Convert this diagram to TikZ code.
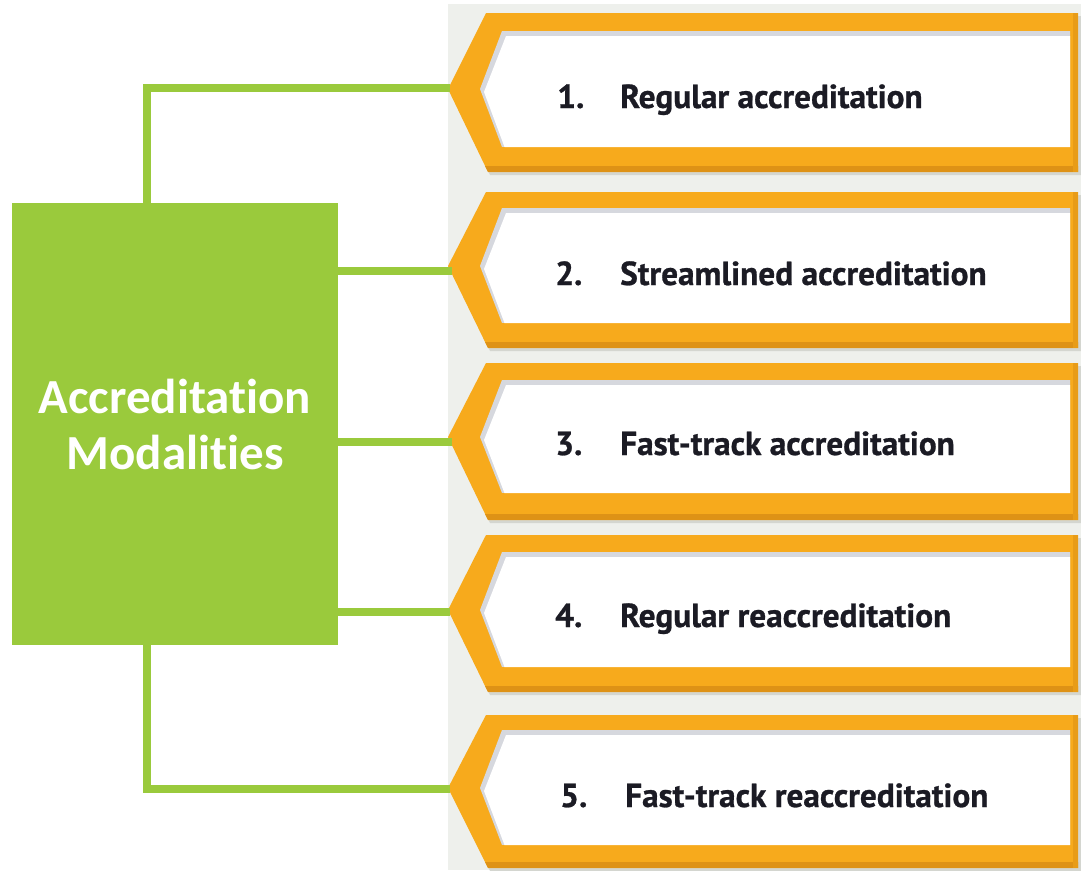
\documentclass[tikz,border=0pt]{standalone}
\usepackage{fontspec}
\newfontfamily\itemfamily{PT Sans}[BoldFeatures={FakeBold=0.8}]
\newfontfamily\headfamily{Carlito}[Ligatures=NoCommon]
\definecolor{gr}{HTML}{9ACA3C}
\definecolor{panel}{HTML}{EEF0EC}
\definecolor{orng}{HTML}{F7AA1C}
\definecolor{orngdark}{HTML}{DE9216}
\definecolor{innershade}{HTML}{D6D8DE}
\definecolor{dropshade}{HTML}{D4D6D0}
\definecolor{ink}{HTML}{1B1B24}
\tikzset{
  conn/.style={gr, line width=8pt},
  mainbox/.style={fill=gr, draw=none, inner sep=0pt, align=center, text=white,
    font=\headfamily\bfseries\fontsize{49}{56}\selectfont},
  itemtext/.style={inner sep=0pt, anchor=base west, text=ink,
    font=\itemfamily\bfseries\fontsize{33.3}{40}\selectfont},
}
\begin{document}
\begin{tikzpicture}[x=1pt,y=-1pt]
\useasboundingbox (0,0) rectangle (1081,870);
\fill[panel] (448,4) rectangle (1081,870);

\foreach \ot/\it/\ib/\ob/\py in {13/31/147/172/89, 192/208/323/348/266, 363/380/493/520/437, 535/552/667/692/610, 715/730/845/868/788}{
  % drop shadow
  \fill[dropshade] (450,\py+3) -- (488,\ot+3) -- (1081,\ot+3) -- (1081,\ob+3) -- (490,\ob+3) -- cycle;
  % outer frame
  \fill[orng] (448,\py) -- (486,\ot) -- (1078,\ot) -- (1078,\ob) -- (488,\ob) -- cycle;
  \begin{scope}
    \clip (448,\py) -- (486,\ot) -- (1078,\ot) -- (1078,\ob) -- (488,\ob) -- cycle;
    \fill[orngdark] (440,\ob-6) rectangle (1081,\ob);
    \fill[orngdark!60!orng] (1073,\ot) rectangle (1078,\ob);
  \end{scope}
  % inner white with inner shadow
  \begin{scope}
    \clip (480,\py) -- (502,\it) -- (1070,\it) -- (1070,\ib) -- (502,\ib) -- cycle;
    \fill[innershade] (470,\it) rectangle (1075,\ib);
    \fill[white] (484,\py+3) -- (506,\it+5) -- (1074,\it+5) -- (1074,\ib+4) -- (506,\ib+4) -- cycle;
  \end{scope}
}

\node[itemtext] (n1) at (557,108) {1.};
\node[itemtext] (l1) at (620,108) {Regular accreditation};
\node[itemtext] (n2) at (555,285) {2.};
\node[itemtext] (l2) at (620,285) {Streamlined accreditation};
\node[itemtext] (n3) at (555,455) {3.};
\node[itemtext] (l3) at (620,455) {Fast-track accreditation};
\node[itemtext] (n4) at (555,627) {4.};
\node[itemtext] (l4) at (620,627) {Regular reaccreditation};
\node[itemtext] (n5) at (560,807) {5.};
\node[itemtext] (l5) at (625,807) {Fast-track reaccreditation};

\coordinate (p1) at (450,88);
\coordinate (p2) at (452,270.5);
\coordinate (p3) at (452,441.5);
\coordinate (p4) at (450,612);
\coordinate (p5) at (450,789);

\node[mainbox, minimum width=326pt, minimum height=442pt] (main) at (175,424) {Accreditation\\Modalities};

\draw[conn] (main.north west) ++(135,0) |- (p1);
\draw[conn] (main.east |- p2) -- (p2);
\draw[conn] (main.east |- p3) -- (p3);
\draw[conn] (main.east |- p4) -- (p4);
\draw[conn] (main.south west) ++(135,0) |- (p5);
\end{tikzpicture}
\end{document}
